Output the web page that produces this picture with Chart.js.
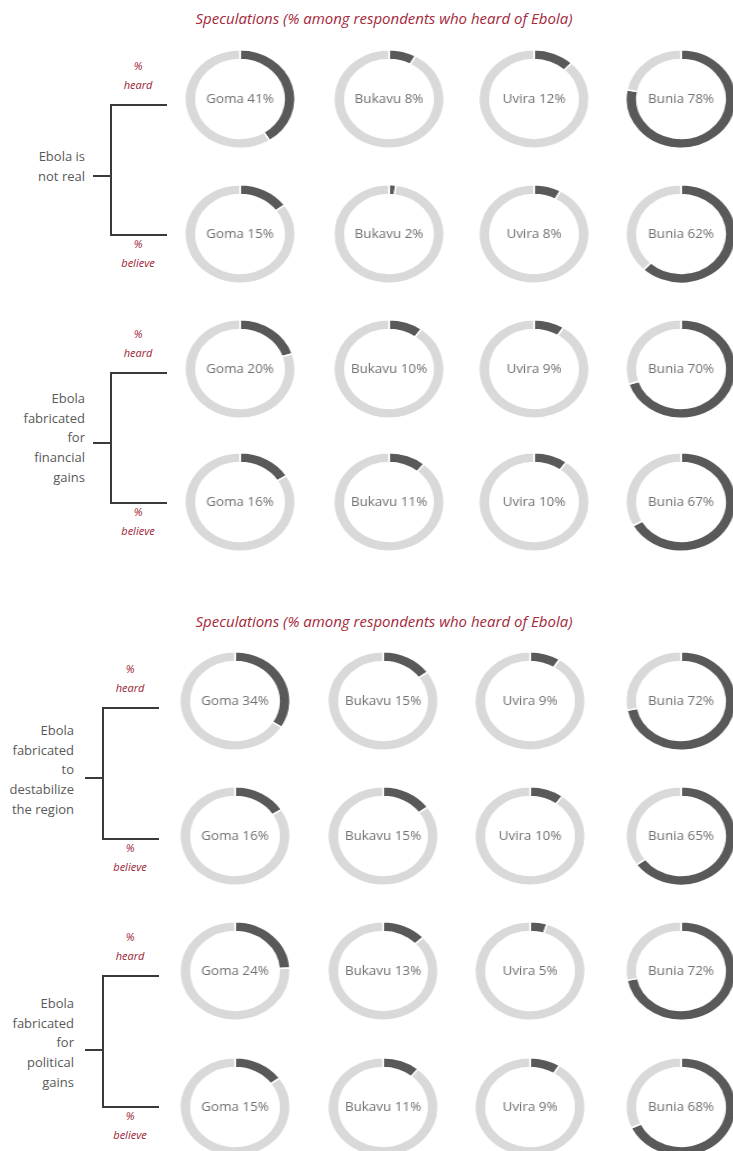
<!DOCTYPE html>
<html>
<head>
<meta charset="utf-8">
<script src="https://cdn.jsdelivr.net/npm/chart.js@4/dist/chart.umd.min.js"></script>
<style>
  body { margin: 0; width: 733px; height: 1151px; background: #fff; overflow: hidden; position: relative; font-family: "Open Sans", sans-serif; }
  .title { position: absolute; left: 134px; width: 500px; text-align: center; font-style: italic; font-size: 15px; color: #a3293b; line-height: 20px; }
  .label { position: absolute; text-align: right; font-size: 13px; line-height: 19.6px; color: #595959; }
  .tag { position: absolute; width: 60px; text-align: center; font-style: italic; font-size: 11px; line-height: 18.5px; color: #9b2232; }
  .ln { position: absolute; background: #3a3a3a; }
  .donut { position: absolute; width: 100px; height: 100px; transform: scaleX(1.12); }
</style>
</head>
<body>
<script>
// ====================
// Data
// ====================

const cities = ["Goma", "Bukavu", "Uvira", "Bunia"];

const notRealHeard = [41, 8, 12, 78];
const notRealBelieve = [15, 2, 8, 62];

const financialHeard = [20, 10, 9, 70];
const financialBelieve = [16, 11, 10, 67];

const destabilizeHeard = [34, 15, 9, 72];
const destabilizeBelieve = [16, 15, 10, 65];

const politicalHeard = [24, 13, 5, 72];
const politicalBelieve = [15, 11, 9, 68];

const titleText = "Speculations (% among respondents who heard of Ebola)";

// ====================
// Layout
// ====================

const sections = [
  {
    titleY: 18,
    cols: [240, 389, 534, 681],
    bracketX: 110, textRight: 85, tagX: 138,
    blocks: [
      { lines: ["Ebola is", "not real"], heard: notRealHeard, believe: notRealBelieve,
        rowA: 98.5, rowB: 233.5, lineA: 104, lineB: 234, tick: 175, textTop: 157 },
      { lines: ["Ebola", "fabricated", "for", "financial", "gains"], heard: financialHeard, believe: financialBelieve,
        rowA: 368.5, rowB: 502, lineA: 372, lineB: 502, tick: 442, textTop: 399 },
    ],
  },
  {
    titleY: 621,
    cols: [235, 383, 530, 681],
    bracketX: 102, textRight: 74, tagX: 130,
    blocks: [
      { lines: ["Ebola", "fabricated", "to", "destabilize", "the region"], heard: destabilizeHeard, believe: destabilizeBelieve,
        rowA: 700.5, rowB: 835.5, lineA: 707, lineB: 838, tick: 777, textTop: 731 },
      { lines: ["Ebola", "fabricated", "for", "political", "gains"], heard: politicalHeard, believe: politicalBelieve,
        rowA: 971, rowB: 1107, lineA: 975, lineB: 1106, tick: 1049, textTop: 1004 },
    ],
  },
];

// ====================
// Helpers
// ====================

function addDiv(cls, styles, html) {
  const d = document.createElement("div");
  d.className = cls;
  Object.assign(d.style, styles);
  if (html !== undefined) d.innerHTML = html;
  document.body.appendChild(d);
  return d;
}

const centerText = {
  id: "centerText",
  afterDraw(chart) {
    const { ctx, chartArea } = chart;
    const text = chart.options.plugins.centerText.text;
    ctx.save();
    ctx.font = "12px 'Open Sans', sans-serif";
    ctx.fillStyle = "#707070";
    ctx.textAlign = "center";
    ctx.textBaseline = "middle";
    ctx.fillText(text, (chartArea.left + chartArea.right) / 2, (chartArea.top + chartArea.bottom) / 2 + 1);
    ctx.restore();
  },
};

function drawDonut(cx, cy, city, value) {
  const wrap = addDiv("donut", { left: cx - 50 + "px", top: cy - 50 + "px" });
  const canvas = document.createElement("canvas");
  canvas.width = 100;
  canvas.height = 100;
  wrap.appendChild(canvas);

  new Chart(canvas, {
    type: "doughnut",
    data: {
      labels: ["yes", "no"],
      datasets: [
        {
          data: [value, 100 - value],
          backgroundColor: ["#595959", "#d9d9d9"],
          borderColor: "#ffffff",
          borderWidth: 1.5,
        },
      ],
    },
    options: {
      responsive: false,
      animation: false,
      cutout: "80%",
      events: [],
      plugins: {
        legend: { display: false },
        tooltip: { enabled: false },
        centerText: { text: city + " " + value + "%" },
      },
    },
    plugins: [centerText],
  });
}

// ====================
// Build page
// ====================

sections.forEach((sec) => {
  addDiv("title", { top: sec.titleY - 10 + "px" }, titleText);

  sec.blocks.forEach((b) => {
    // left text
    addDiv("label", { right: 733 - sec.textRight + "px", top: b.textTop - 9.8 + "px" }, b.lines.join("<br>"));

    // bracket
    const x = sec.bracketX;
    addDiv("ln", { left: x + "px", top: b.lineA + "px", width: "1.5px", height: b.lineB - b.lineA + 1 + "px" });
    addDiv("ln", { left: x + "px", top: b.lineA + "px", width: "57px", height: "1.5px" });
    addDiv("ln", { left: x + "px", top: b.lineB + "px", width: "57px", height: "1.5px" });
    addDiv("ln", { left: x - 17 + "px", top: b.tick + "px", width: "18px", height: "1.5px" });

    // % heard / % believe
    addDiv("tag", { left: sec.tagX - 30 + "px", top: b.lineA - 47 + "px" }, "%<br>heard");
    addDiv("tag", { left: sec.tagX - 30 + "px", top: b.lineB + 1 + "px" }, "%<br>believe");

    // donuts
    cities.forEach((city, i) => {
      drawDonut(sec.cols[i], b.rowA, city, b.heard[i]);
      drawDonut(sec.cols[i], b.rowB, city, b.believe[i]);
    });
  });
});
</script>
</body>
</html>
